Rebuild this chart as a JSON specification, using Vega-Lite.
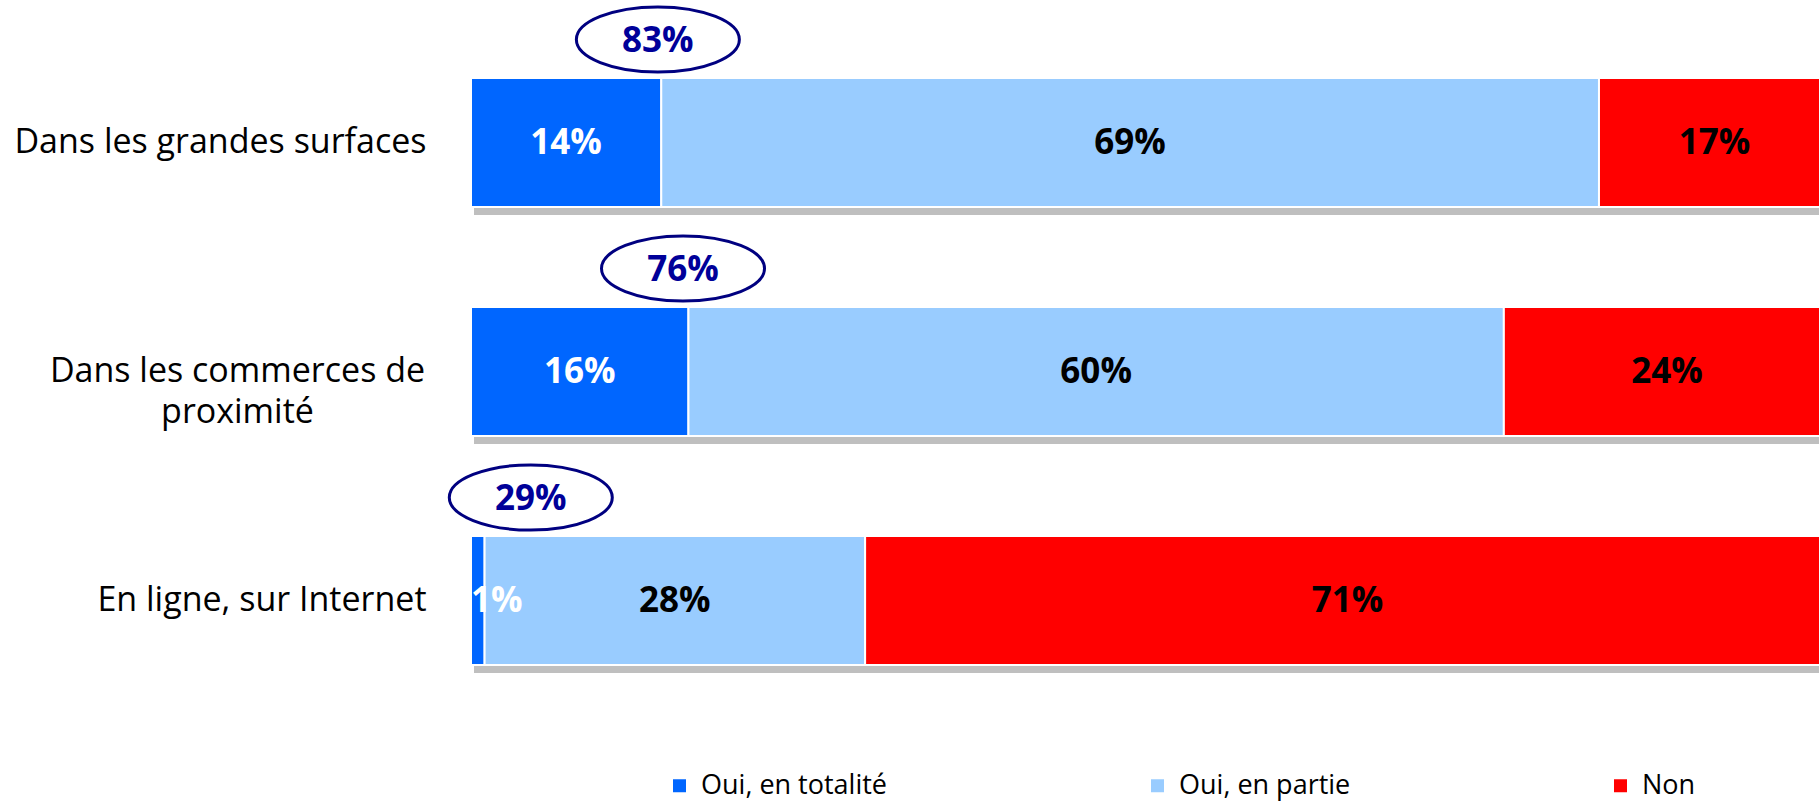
{
  "$schema": "https://vega.github.io/schema/vega-lite/v6.json",
  "width": 1348,
  "height": 687,
  "autosize": "none",
  "padding": {"left": 471, "top": 28, "right": 0, "bottom": 87},
  "background": "white",
  "config": {"view": {"stroke": null}, "font": "Open Sans"},
  "datasets": {
    "bars": [
      {"cat": "Dans les grandes surfaces", "rep": "Oui, en totalité", "val": 14, "ord": 1, "lab": "14%"},
      {"cat": "Dans les grandes surfaces", "rep": "Oui, en partie", "val": 69, "ord": 2, "lab": "69%"},
      {"cat": "Dans les grandes surfaces", "rep": "Non", "val": 17, "ord": 3, "lab": "17%"},
      {"cat": "Dans les commerces de proximité", "rep": "Oui, en totalité", "val": 16, "ord": 1, "lab": "16%"},
      {"cat": "Dans les commerces de proximité", "rep": "Oui, en partie", "val": 60, "ord": 2, "lab": "60%"},
      {"cat": "Dans les commerces de proximité", "rep": "Non", "val": 24, "ord": 3, "lab": "24%"},
      {"cat": "En ligne, sur Internet", "rep": "Oui, en totalité", "val": 1, "ord": 1, "lab": "1%"},
      {"cat": "En ligne, sur Internet", "rep": "Oui, en partie", "val": 28, "ord": 2, "lab": "28%"},
      {"cat": "En ligne, sur Internet", "rep": "Non", "val": 71, "ord": 3, "lab": "71%"}
    ],
    "totals": [
      {"cat": "Dans les grandes surfaces", "total": "83%", "pos": 13.75},
      {"cat": "Dans les commerces de proximité", "total": "76%", "pos": 15.6},
      {"cat": "En ligne, sur Internet", "total": "29%", "pos": 4.4}
    ]
  },
  "encoding": {
    "y": {
      "field": "cat",
      "type": "nominal",
      "sort": ["Dans les grandes surfaces", "Dans les commerces de proximité", "En ligne, sur Internet"],
      "scale": {"paddingInner": 0.437, "paddingOuter": 0.2185},
      "axis": {
        "title": null,
        "domain": false,
        "ticks": false,
        "labelFontSize": 34,
        "labelColor": "#000000",
        "labelLimit": 600,
        "labelLineHeight": 41,
        "labelExpr": "datum.value == 'Dans les commerces de proximité' ? ['Dans les commerces de', 'proximité'] : datum.value",
        "labelAlign": {"condition": {"test": "datum.value == 'Dans les commerces de proximité'", "value": "center"}, "value": "right"},
        "labelPadding": {"condition": {"test": "datum.value == 'Dans les commerces de proximité'", "value": 234}, "value": 45}
      }
    }
  },
  "layer": [
    {
      "data": {"name": "totals"},
      "mark": {"type": "bar", "color": "#BFBFBF", "yOffset": 8, "xOffset": 3, "x2Offset": 3, "clip": true},
      "encoding": {
        "x": {"datum": 0, "type": "quantitative", "scale": {"domain": [0, 99.19], "nice": false, "zero": false}, "axis": null},
        "x2": {"datum": 100}
      }
    },
    {
      "data": {"name": "bars"},
      "transform": [
        {"stack": "val", "groupby": ["cat"], "sort": [{"field": "ord", "order": "ascending"}], "as": ["x0", "x1"]}
      ],
      "layer": [
        {
          "mark": {"type": "bar", "stroke": "#FFFFFF", "strokeWidth": 2, "clip": true},
          "encoding": {
            "x": {"field": "x0", "type": "quantitative", "axis": null},
            "x2": {"field": "x1"},
            "color": {
              "field": "rep",
              "type": "nominal",
              "scale": {"domain": ["Oui, en totalité", "Oui, en partie", "Non"], "range": ["#0066FF", "#99CCFF", "#FF0000"]},
              "legend": {
                "title": null,
                "orient": "none",
                "legendX": 195,
                "legendY": 744,
                "direction": "horizontal",
                "symbolType": "square",
                "symbolSize": 169,
                "symbolStrokeWidth": 0,
                "labelFontSize": 27,
                "labelColor": "#000000",
                "labelOffset": 8,
                "columnPadding": 256,
                "padding": 0,
                "labelLimit": 400
              }
            }
          }
        },
        {
          "transform": [
            {"filter": "datum.val >= 5"},
            {"fold": ["x0", "x1"], "as": ["edge", "edgeval"]},
            {"aggregate": [{"op": "mean", "field": "edgeval", "as": "mid"}], "groupby": ["cat", "rep", "lab"]}
          ],
          "mark": {"type": "text", "fontSize": 35, "fontWeight": "bold", "baseline": "middle", "align": "center", "clip": true},
          "encoding": {
            "x": {"field": "mid", "type": "quantitative"},
            "text": {"field": "lab"},
            "color": {"condition": {"test": "datum.rep == 'Oui, en totalité'", "value": "#FFFFFF"}, "value": "#000000"}
          }
        },
        {
          "transform": [{"filter": "datum.val < 5"}],
          "mark": {"type": "text", "fontSize": 35, "fontWeight": "bold", "baseline": "middle", "align": "left", "color": "#FFFFFF"},
          "encoding": {
            "x": {"field": "x0", "type": "quantitative"},
            "text": {"field": "lab"}
          }
        }
      ]
    },
    {
      "data": {"name": "totals"},
      "mark": {"type": "point", "shape": "M-1,0A1,0.4,0,1,1,1,0A1,0.4,0,1,1,-1,0Z", "size": 26569, "filled": false, "stroke": "#000080", "strokeWidth": 3, "opacity": 1, "yOffset": -103},
      "encoding": {
        "x": {"field": "pos", "type": "quantitative"}
      }
    },
    {
      "data": {"name": "totals"},
      "mark": {"type": "text", "fontSize": 35, "fontWeight": "bold", "color": "#000099", "baseline": "middle", "align": "center", "yOffset": -102},
      "encoding": {
        "x": {"field": "pos", "type": "quantitative"},
        "text": {"field": "total"}
      }
    }
  ]
}
